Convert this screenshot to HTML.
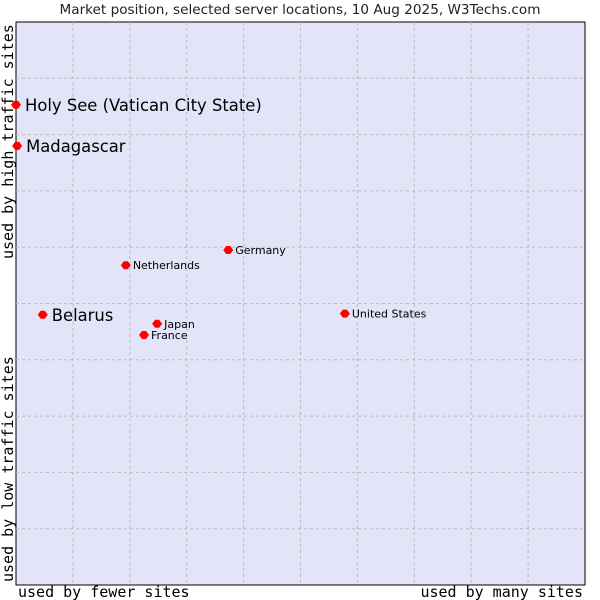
<!DOCTYPE html>
<html><head><meta charset="utf-8"><style>
body{margin:0;background:#fff}
svg{display:block}
</style></head><body>
<svg id="c" width="600" height="600" xmlns="http://www.w3.org/2000/svg">
<text x="300" y="14" text-anchor="middle" font-family="DejaVu Sans, sans-serif" font-size="13.6" fill="#222">Market position, selected server locations, 10 Aug 2025, W3Techs.com</text>
<rect x="16" y="22" width="569" height="563" fill="#e3e4f8" stroke="#000" stroke-width="1"/>
<g id="grid"></g>
<g id="pts"></g>
<text x="18" y="597" font-family="DejaVu Sans Mono, monospace" font-size="15" fill="#000">used by fewer sites</text>
<text x="583" y="597" text-anchor="end" font-family="DejaVu Sans Mono, monospace" font-size="15" fill="#000">used by many sites</text>
<text transform="translate(13,582) rotate(-90)" font-family="DejaVu Sans Mono, monospace" font-size="15" fill="#000">used by low traffic sites</text>
<text transform="translate(13,259) rotate(-90)" font-family="DejaVu Sans Mono, monospace" font-size="15" fill="#000">used by high traffic sites</text>
</svg>
<script>
const countries=["Holy See (Vatican City State)","Madagascar","Belarus","Netherlands","Germany","Japan","France","United States"];
const xValues=[0,0.2,4.7,19.3,37.3,24.8,22.5,57.8];
const yValues=[85.3,78.0,48.0,56.8,59.5,46.4,44.4,48.2];
const bigLabel=[true,true,true,false,false,false,false,false];
const NS="http://www.w3.org/2000/svg";
const L=16,T=22,W=569,H=563;
const xs=v=>L+v/100*W, ys=v=>T+H-v/100*H;
const g=document.getElementById('grid');
for(let i=1;i<10;i++){
 const a=document.createElementNS(NS,'line');
 a.setAttribute('x1',xs(i*10));a.setAttribute('x2',xs(i*10));a.setAttribute('y1',T);a.setAttribute('y2',T+H);
 a.setAttribute('stroke','#bbb');a.setAttribute('stroke-dasharray','3,3');
 
 
 g.appendChild(a);
 const b=document.createElementNS(NS,'line');
 b.setAttribute('y1',ys(i*10));b.setAttribute('y2',ys(i*10));b.setAttribute('x1',L);b.setAttribute('x2',L+W);
 b.setAttribute('stroke','#bbb');b.setAttribute('stroke-dasharray','3,3');
 
 
 g.appendChild(b);
}
const p=document.getElementById('pts');
countries.forEach((c,i)=>{
 const x=xs(xValues[i]),y=ys(yValues[i]);
 const d=document.createElementNS(NS,'path');
 d.setAttribute('d',`M${x-5},${y}L${x-2},${y-4}L${x+2},${y-4}L${x+5},${y}L${x+2},${y+4}L${x-2},${y+4}Z`);
 d.setAttribute('fill','#f00');
 
 
 p.appendChild(d);
 const t=document.createElementNS(NS,'text');
 t.setAttribute('x',x+(bigLabel[i]?9:7));
 t.setAttribute('y',y+(bigLabel[i]?6:4));
 t.setAttribute('font-family','DejaVu Sans, sans-serif');
 t.setAttribute('font-size',bigLabel[i]?'16.4':'11');
 t.setAttribute('fill','#000');
 t.textContent=c;
 
 
 p.appendChild(t);
});
</script>
</body></html>
